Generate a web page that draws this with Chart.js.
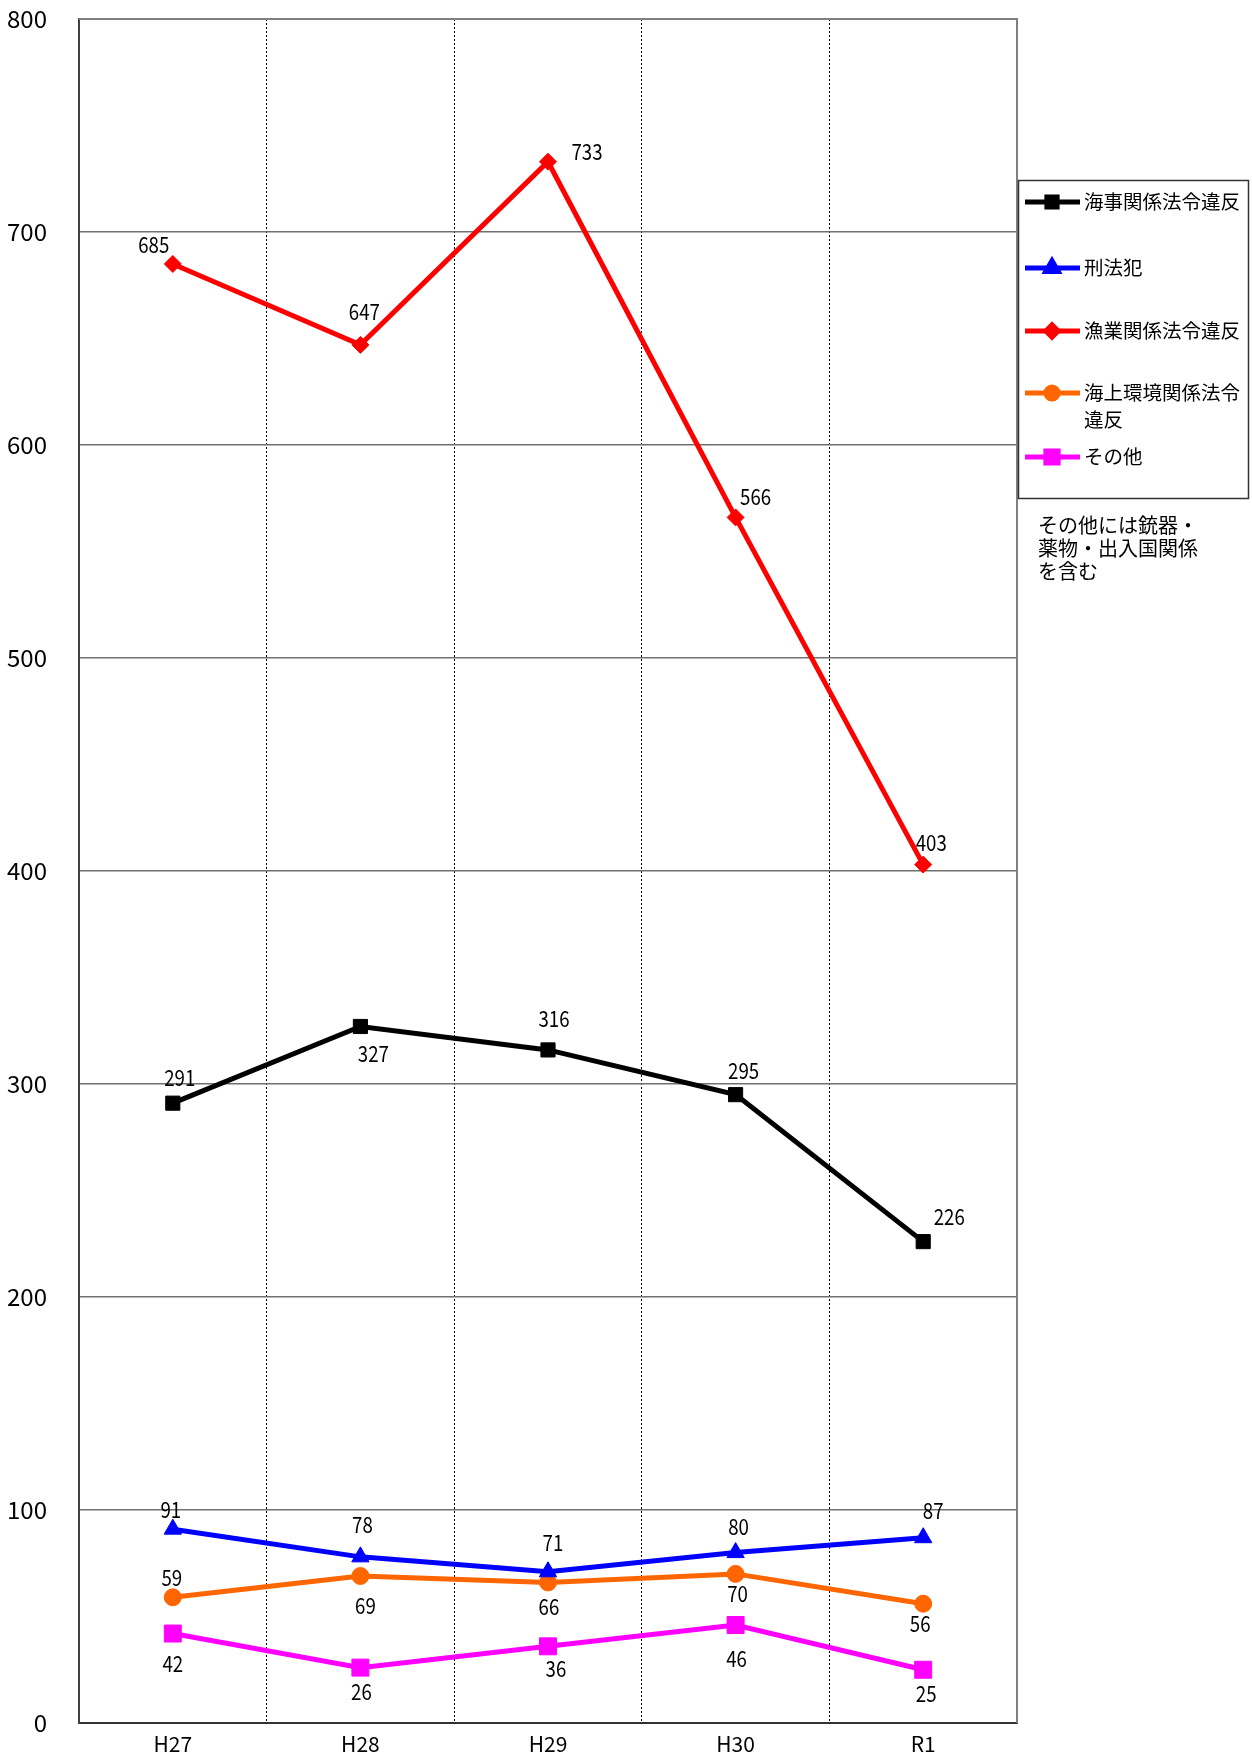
<!DOCTYPE html>
<html>
<head>
<meta charset="utf-8">
<script src="https://cdn.jsdelivr.net/npm/chart.js@4.4.1/dist/chart.umd.min.js"></script>
<style>
  body { margin: 0; background: #fff; }
  canvas { display: block; }
</style>
</head>
<body>
<canvas id="myChart" width="1252" height="1757"></canvas>
<script>
// categories (fiscal years)
var years = ['H27', 'H28', 'H29', 'H30', 'R1'];

// series values
var kaijiValues = [291, 327, 316, 295, 226];      // 海事関係法令違反
var keihouValues = [91, 78, 71, 80, 87];          // 刑法犯
var gyogyoValues = [685, 647, 733, 566, 403];     // 漁業関係法令違反
var kankyoValues = [59, 69, 66, 70, 56];          // 海上環境関係法令違反
var sonotaValues = [42, 26, 36, 46, 25];          // その他

// y axis ticks
var yMin = 0;
var yMax = 800;
var yStep = 100;

var noteLines = ['その他には銃器・', '薬物・出入国関係', 'を含む'];

var numFont = "'Noto Sans CJK JP', sans-serif";
var jpFont = "'Noto Sans CJK JP', sans-serif";

// where each value label sits relative to its point (px)
var kaijiLabelPos = [[7, -26], [13, 27], [6, -31], [8, -24], [26, -25]];
var keihouLabelPos = [[-2, -20], [2, -32], [5, -29], [3, -26], [10, -27]];
var gyogyoLabelPos = [[-19, -19], [4, -33], [39, -10], [20, -21], [8, -22]];
var kankyoLabelPos = [[-1, -20], [5, 30], [1, 24], [2, 20], [-3, 20]];
var sonotaLabelPos = [[0, 30], [1, 24], [8, 22], [1, 34], [3, 24]];

// value labels next to the points (a bit condensed, like the original)
var valueLabels = {
    id: 'valueLabels',
    afterDatasetsDraw: function (chart) {
        var ctx = chart.ctx;
        ctx.save();
        ctx.font = '22px ' + numFont;
        ctx.fillStyle = '#000';
        ctx.textAlign = 'center';
        ctx.textBaseline = 'middle';
        chart.data.datasets.forEach(function (ds, i) {
            var meta = chart.getDatasetMeta(i);
            meta.data.forEach(function (pt, j) {
                var off = ds.labelPos[j];
                ctx.save();
                ctx.translate(pt.x + off[0], pt.y + off[1]);
                ctx.scale(0.85, 1);
                ctx.fillText(String(ds.data[j]), 0, 0);
                ctx.restore();
            });
        });
        ctx.restore();
    }
};

// frame, legend box and note on the right
var sideLegend = {
    id: 'sideLegend',
    afterDraw: function (chart) {
        var ctx = chart.ctx;
        var area = chart.chartArea;
        ctx.save();

        // top and right frame of the plot
        ctx.strokeStyle = '#808080';
        ctx.lineWidth = 2;
        ctx.beginPath();
        ctx.moveTo(area.left, area.top);
        ctx.lineTo(area.right, area.top);
        ctx.lineTo(area.right, area.bottom);
        ctx.stroke();

        // legend box
        var bx = 1018, by = 180, bw = 230, bh = 318;
        ctx.strokeStyle = '#333';
        ctx.lineWidth = 1.5;
        ctx.strokeRect(bx + 0.5, by + 0.5, bw, bh);

        var rows = [202, 268, 331, 393, 457];
        ctx.font = '19.5px ' + jpFont;
        ctx.textBaseline = 'middle';
        ctx.textAlign = 'left';
        chart.data.datasets.forEach(function (ds, i) {
            var y = rows[i];
            ctx.strokeStyle = ds.borderColor;
            ctx.lineWidth = 5;
            ctx.beginPath();
            ctx.moveTo(1025, y);
            ctx.lineTo(1080, y);
            ctx.stroke();
            Chart.helpers.drawPoint(ctx, {
                pointStyle: ds.pointStyle,
                radius: ds.pointRadius * 0.72,
                rotation: 0,
                borderWidth: 1
            }, 1052, y);
            ctx.fillStyle = ds.borderColor;
            ctx.strokeStyle = ds.borderColor;
            ctx.fill();
            // wrap text to the box width
            ctx.fillStyle = '#000';
            var line = '', ly = y;
            for (var k = 0; k < ds.label.length; k++) {
                var test = line + ds.label[k];
                if (ctx.measureText(test).width > 160 && line) {
                    ctx.fillText(line, 1084, ly);
                    line = ds.label[k];
                    ly += 27;
                } else {
                    line = test;
                }
            }
            ctx.fillText(line, 1084, ly);
        });

        ctx.font = '20px ' + jpFont;
        noteLines.forEach(function (t, i) {
            ctx.fillText(t, 1038, 525 + i * 23);
        });
        ctx.restore();
    }
};

function series(label, values, color, style, radius, labelPos) {
    return {
        label: label,
        data: values,
        borderColor: color,
        backgroundColor: color,
        pointBackgroundColor: color,
        pointBorderColor: color,
        pointStyle: style,
        pointRadius: radius,
        pointBorderWidth: 1,
        borderWidth: 5,
        tension: 0,
        fill: false,
        labelPos: labelPos
    };
}

var ctx = document.getElementById('myChart').getContext('2d');

var myChart = new Chart(ctx, {
    type: 'line',
    data: {
        labels: years,
        datasets: [
            series('海事関係法令違反', kaijiValues, '#000000', 'rect', 10, kaijiLabelPos),
            series('刑法犯', keihouValues, '#0000FF', 'triangle', 10, keihouLabelPos),
            series('漁業関係法令違反', gyogyoValues, '#FF0000', 'rectRot', 8.5, gyogyoLabelPos),
            series('海上環境関係法令違反', kankyoValues, '#FF6600', 'circle', 8.5, kankyoLabelPos),
            series('その他', sonotaValues, '#FF00FF', 'rect', 12, sonotaLabelPos)
        ]
    },
    options: {
        responsive: false,
        animation: false,
        layout: {
            padding: { left: 0, right: 235, top: 19, bottom: 0 }
        },
        plugins: {
            legend: { display: false },
            tooltip: { enabled: false }
        },
        scales: {
            x: {
                offset: true,
                grid: {
                    offset: true,
                    drawTicks: false,
                    color: function (c) {
                        return (c.index === 0 || c.index === years.length) ? 'rgba(0,0,0,0)' : '#000';
                    },
                    lineWidth: 1
                },
                border: { color: '#333', width: 2, dash: [2, 2] },
                ticks: {
                    color: '#000',
                    padding: 8,
                    font: { family: numFont, size: 21 }
                },
                afterFit: function (scale) { scale.height = 34; }
            },
            y: {
                min: yMin,
                max: yMax,
                grid: {
                    drawTicks: true,
                    tickLength: 32,
                    tickColor: 'rgba(0,0,0,0)',
                    color: '#707070',
                    lineWidth: 1.5
                },
                border: { color: '#404040', width: 2 },
                ticks: {
                    stepSize: yStep,
                    color: '#000',
                    padding: 0,
                    font: { family: numFont, size: 24 }
                },
                afterFit: function (scale) { scale.width = 79; }
            }
        }
    },
    plugins: [valueLabels, sideLegend]
});
</script>
</body>
</html>
